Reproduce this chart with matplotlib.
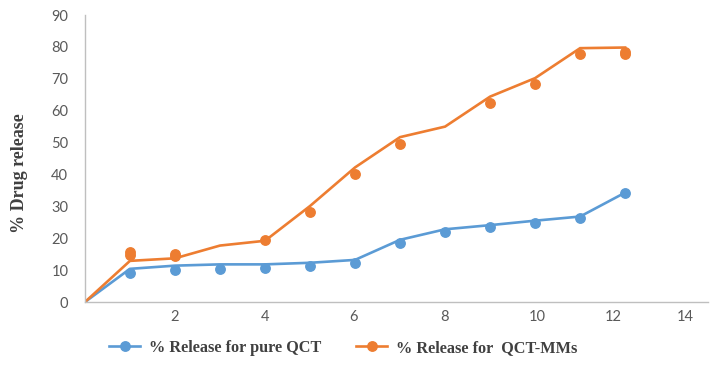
import matplotlib
matplotlib.use('Agg')
import matplotlib.pyplot as plt
from matplotlib.lines import Line2D

# data (line and dots do not coincide in the original)
x_line = [0, 1, 2, 3, 4, 5, 6, 7, 8, 9, 10, 11, 12]
pure_line = [0, 10.4, 11.4, 11.8, 11.8, 12.3, 13.2, 19.5, 22.8, 24.1, 25.5, 26.8, 34.3]
mms_line = [0, 12.9, 13.7, 17.7, 19.2, 30.1, 42.2, 51.7, 55.0, 64.4, 70.2, 79.6, 79.8]

x_pure_pts = [1, 2, 3, 4, 5, 6, 7, 8, 9, 10, 11, 12]
pure_pts = [9.0, 10.0, 10.3, 10.6, 11.3, 12.1, 18.4, 22.1, 23.5, 24.9, 26.3, 34.1]
x_mms_pts = [1, 1, 2, 2, 4, 5, 6, 7, 9, 10, 11, 12, 12]
mms_pts = [14.8, 15.8, 14.3, 15.2, 19.5, 28.2, 40.2, 49.6, 62.4, 68.3, 77.8, 77.8, 78.4]

xtick_labels = ['2', '4', '6', '8', '10', '12', '14']
xtick_pos = [2, 4, 5.96, 7.98, 10.04, 11.73, 13.33]
ytick_vals = [0, 10, 20, 30, 40, 50, 60, 70, 80, 90]

blue = '#5B9BD5'
orange = '#ED7D31'
grey = '#595959'

fig = plt.figure(figsize=(7.14, 3.65), dpi=100)
ax = fig.add_axes([0.119, 0.1726, 0.8725, 0.7863])

ax.plot(x_line, pure_line, color=blue, lw=1.9, solid_joinstyle='miter')
ax.plot(x_line, mms_line, color=orange, lw=1.9, solid_joinstyle='miter')
ax.plot(x_pure_pts, pure_pts, 'o', color=blue, ms=6.8)
ax.plot(x_mms_pts, mms_pts, 'o', color=orange, ms=6.8)

ax.set_xlim(0, 13.84)
ax.set_ylim(0, 90)
ax.set_xticks(xtick_pos)
ax.set_xticklabels(xtick_labels)
ax.set_yticks(ytick_vals)
ax.tick_params(length=0, labelsize=10.5, labelcolor=grey)
ax.tick_params(axis='x', pad=6)
ax.tick_params(axis='y', pad=12)
for lab in ax.get_xticklabels() + ax.get_yticklabels():
    lab.set_family('Lato')

for s in ['top', 'right']:
    ax.spines[s].set_visible(False)
for s in ['left', 'bottom']:
    ax.spines[s].set_color('#BFBFBF')
    ax.spines[s].set_linewidth(1)

ax.set_ylabel('% Drug release', family='Liberation Serif', fontweight='bold',
              fontsize=13, color='#404040')
ax.yaxis.set_label_coords(-0.091, 0.449)

handles = [Line2D([], [], color=blue, lw=1.9, marker='o', ms=6.8),
           Line2D([], [], color=orange, lw=1.9, marker='o', ms=6.8)]
fig.legend(handles, ['% Release for pure QCT', '% Release for  QCT-MMs'],
           loc='center', bbox_to_anchor=(0.481, 1 - 348 / 365), ncol=2,
           frameon=False, handlelength=1.9, handletextpad=0.55, columnspacing=2.15,
           prop={'family': 'Liberation Serif', 'weight': 'bold', 'size': 11.7},
           labelcolor='#404040')

fig.savefig('out.png', dpi=100)
